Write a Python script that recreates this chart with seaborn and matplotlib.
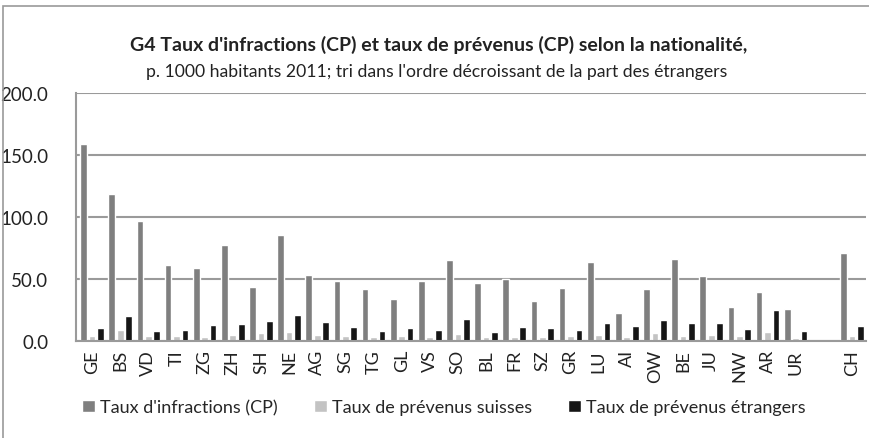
import pandas as pd
import seaborn as sns
import matplotlib.pyplot as plt
from matplotlib.patches import Rectangle

# Cantons, sorted by share of foreigners (descending); blank slot before CH
cantons = ['GE', 'BS', 'VD', 'TI', 'ZG', 'ZH', 'SH', 'NE', 'AG', 'SG', 'TG', 'GL', 'VS', 'SO',
           'BL', 'FR', 'SZ', 'GR', 'LU', 'AI', 'OW', 'BE', 'JU', 'NW', 'AR', 'UR', 'CH']
order = cantons[:-1] + [' '] + ['CH']

taux_infractions = [159.1, 118.5, 96.6, 61.4, 58.8, 77.1, 43.3, 85.0, 53.3, 48.2, 41.4, 33.3, 48.5, 65.5,
                    46.6, 50.0, 32.0, 42.5, 63.6, 22.7, 41.4, 65.7, 52.3, 27.4, 39.3, 25.7, 70.6]
taux_suisses = [3.6, 8.7, 3.6, 3.6, 3.0, 4.6, 6.0, 7.3, 4.6, 3.8, 3.0, 3.8, 3.0, 5.2,
                3.0, 3.0, 3.0, 3.8, 4.6, 3.2, 6.0, 4.1, 4.3, 3.6, 7.3, 2.0, 3.8]
taux_etrangers = [10.0, 20.3, 8.1, 8.7, 12.7, 13.8, 15.7, 20.9, 14.9, 11.4, 7.6, 10.0, 8.9, 17.6,
                  6.8, 11.1, 10.0, 8.7, 14.1, 11.9, 16.5, 14.1, 14.1, 9.2, 24.7, 7.9, 11.6]

series = ["Taux d'infractions (CP)", "Taux de prévenus suisses", "Taux de prévenus étrangers"]
colors = ['#7f7f7f', '#c3c3c3', '#161616']

df = pd.concat([
    pd.DataFrame({'canton': cantons, 'valeur': taux_infractions, 'serie': series[0]}),
    pd.DataFrame({'canton': cantons, 'valeur': taux_suisses, 'serie': series[1]}),
    pd.DataFrame({'canton': cantons, 'valeur': taux_etrangers, 'serie': series[2]}),
])

sns.set_style('white')
plt.rcParams['font.family'] = ['Lato', 'DejaVu Sans']

fig = plt.figure(figsize=(8.69, 4.39), dpi=100)
ax = fig.add_axes([0.0875, 0.2216, 0.909, 0.5644])

sns.barplot(data=df, x='canton', y='valeur', hue='serie', order=order, hue_order=series,
            palette=colors, width=0.9, gap=0.2, ax=ax, saturation=1, legend=True)

ax.set_ylim(0, 200)
ax.set_yticks([0, 50, 100, 150, 200])
ax.set_yticklabels(['0.0', '50.0', '100.0', '150.0', '200.0'], fontsize=13.5, color='#222222')
ax.set_xlim(-0.57, 27.5)
ax.tick_params(axis='x', rotation=90, labelsize=13, labelcolor='#222222', length=0, pad=6)
ax.tick_params(axis='y', length=0, pad=20)
ax.set_xlabel('')
ax.set_ylabel('')
ax.grid(axis='y', color='#9a9a9a', linewidth=1.5)
ax.set_axisbelow(True)
for side in ['top', 'right']:
    ax.spines[side].set_visible(False)
for side in ['left', 'bottom']:
    ax.spines[side].set_color('#9a9a9a')
    ax.spines[side].set_linewidth(1.5)

handles, labels = ax.get_legend_handles_labels()
ax.legend_.remove()
fig.legend(handles, labels, loc='center', bbox_to_anchor=(0.511, 0.07), ncol=3, frameon=False,
           fontsize=13, handlelength=0.7, handleheight=0.7, handletextpad=0.3, columnspacing=2.0)

fig.text(0.505, 0.897, "G4 Taux d'infractions (CP) et taux de prévenus (CP) selon la nationalité,",
         ha='center', va='center', fontsize=14, fontweight='bold', color='#222222')
fig.text(0.502, 0.836, "p. 1000 habitants 2011; tri dans l'ordre décroissant de la part des étrangers",
         ha='center', va='center', fontsize=12.7, color='#222222')

# outer frame of the chart area
fig.patches.append(Rectangle((3 / 869, -0.05), 1.0, 1.0 - 7 / 439 + 0.05, transform=fig.transFigure,
                             fill=False, edgecolor='#9a9a9a', linewidth=1.2))

fig.savefig('out.png', dpi=100)
